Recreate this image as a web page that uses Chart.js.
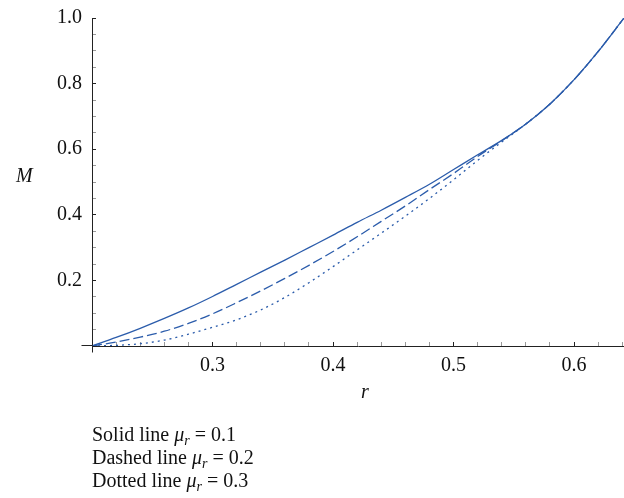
<!DOCTYPE html>
<html>
<head>
<meta charset="utf-8">
<script src="https://cdn.jsdelivr.net/npm/chart.js@4"></script>
<style>
  body { margin: 0; background: #fff; }
  #wrap { position: relative; width: 624px; height: 498px; }
  .lbl { position: absolute; font-family: "Liberation Serif", serif; font-size: 20px; color: #111; }
  .it { font-style: italic; }
  #notes { left: 92px; top: 423px; line-height: 23px; }
  sub { font-size: 14px; vertical-align: -4px; line-height: 0; }
</style>
</head>
<body>
<div id="wrap">
  <canvas id="graph1" width="624" height="498"></canvas>
  <div class="lbl it" style="left:16px; top:164px;">M</div>
  <div class="lbl it" style="left:361px; top:380px;">r</div>
  <div class="lbl" id="notes">
    Solid line <i>μ</i><sub><i>r</i></sub> = 0.1<br>
    Dashed line <i>μ</i><sub><i>r</i></sub> = 0.2<br>
    Dotted line <i>μ</i><sub><i>r</i></sub> = 0.3
  </div>
</div>
<script>
// valores
const rValues = [0.20, 0.22, 0.24, 0.26, 0.28, 0.30, 0.32, 0.34, 0.36, 0.38, 0.40, 0.42,
                 0.44, 0.46, 0.48, 0.50, 0.52, 0.54, 0.56, 0.58, 0.60, 0.62, 0.6414];
const solidM  = [0, 0.026, 0.054, 0.084, 0.116, 0.151, 0.188, 0.225, 0.262, 0.300, 0.338, 0.377,
                 0.414, 0.453, 0.493, 0.538, 0.583, 0.627, 0.677, 0.738, 0.812, 0.898, 1.0];
const dashedM = [0, 0.012, 0.027, 0.045, 0.069, 0.098, 0.132, 0.168, 0.206, 0.246, 0.288, 0.333,
                 0.380, 0.427, 0.477, 0.526, 0.578, 0.626, 0.677, 0.738, 0.812, 0.898, 1.0];
const dottedM = [0, 0.002, 0.007, 0.018, 0.036, 0.057, 0.080, 0.110, 0.148, 0.193, 0.242, 0.293,
                 0.344, 0.396, 0.450, 0.507, 0.566, 0.622, 0.677, 0.738, 0.812, 0.898, 1.0];

const xLabels = [0.3, 0.4, 0.5, 0.6];
const yLabels = [0.2, 0.4, 0.6, 0.8, 1.0];

const blue = '#2b5cab';
const serif = { family: 'Liberation Serif', size: 20 };

function pts(ys) {
    return rValues.map((r, i) => ({x: r, y: ys[i]}));
}
function isLabel(list, v) {
    return list.some(l => Math.abs(l - v) < 1e-6);
}

// prolonga os eixos um pouco alem da origem
const axisCross = {
    id: 'axisCross',
    afterDraw(chart) {
        const {ctx, scales: {x, y}} = chart;
        const x0 = Math.round(x.getPixelForValue(0.2)) + 0.5;
        const y0 = Math.round(y.getPixelForValue(0)) - 0.5;
        ctx.save();
        ctx.strokeStyle = '#222';
        ctx.lineWidth = 1;
        ctx.beginPath();
        ctx.moveTo(x0 - 11, y0);
        ctx.lineTo(x0, y0);
        ctx.moveTo(x0, y0);
        ctx.lineTo(x0, y0 + 7);
        ctx.stroke();
        ctx.restore();
    }
};

const config = {
    type: 'line',
    data: {
        datasets: [
            {label: 'Solid', data: pts(solidM), borderColor: blue, borderWidth: 1.3},
            {label: 'Dashed', data: pts(dashedM), borderColor: blue, borderWidth: 1.3, borderDash: [10, 4]},
            {label: 'Dotted', data: pts(dottedM), borderColor: blue, borderWidth: 1.3, borderDash: [2, 4]},
        ]
    },
    options: {
        responsive: false,
        animation: false,
        layout: { padding: { top: 18, right: 0, left: 0, bottom: 0 } },
        elements: {
            point: { radius: 0 },
            line: { cubicInterpolationMode: 'monotone', fill: false }
        },
        scales: {
            x: {
                type: 'linear',
                min: 0.2,
                max: 0.6414,
                border: { display: true, color: '#222', width: 1 },
                grid: {
                    drawOnChartArea: false,
                    drawTicks: true,
                    tickLength: -4,
                    tickColor: ctx => isLabel(xLabels, ctx.tick.value) ? '#222' : '#999'
                },
                ticks: {
                    stepSize: 0.02,
                    includeBounds: false,
                    autoSkip: false,
                    maxRotation: 0,
                    padding: 12,
                    color: '#111',
                    font: serif,
                    callback: v => isLabel(xLabels, v) ? v.toFixed(1) : ''
                },
                afterFit: s => { s.height = 152; s.paddingLeft = 0; s.paddingRight = 0; }
            },
            y: {
                min: 0,
                max: 1.0,
                border: { display: true, color: '#222', width: 1 },
                grid: {
                    drawOnChartArea: false,
                    drawTicks: true,
                    tickLength: -4,
                    tickColor: ctx => isLabel(yLabels, ctx.tick.value) ? '#222' : '#999'
                },
                ticks: {
                    stepSize: 0.05,
                    includeBounds: false,
                    autoSkip: false,
                    padding: 14,
                    color: '#111',
                    font: serif,
                    callback: v => isLabel(yLabels, v) ? v.toFixed(1) : ''
                },
                afterFit: s => { s.width = 92; s.paddingTop = 0; s.paddingBottom = 0; }
            }
        },
        plugins: {
            legend: { display: false },
            tooltip: { enabled: false }
        }
    },
    plugins: [axisCross]
};

const chart = new Chart(document.getElementById('graph1'), config);
</script>
</body>
</html>
